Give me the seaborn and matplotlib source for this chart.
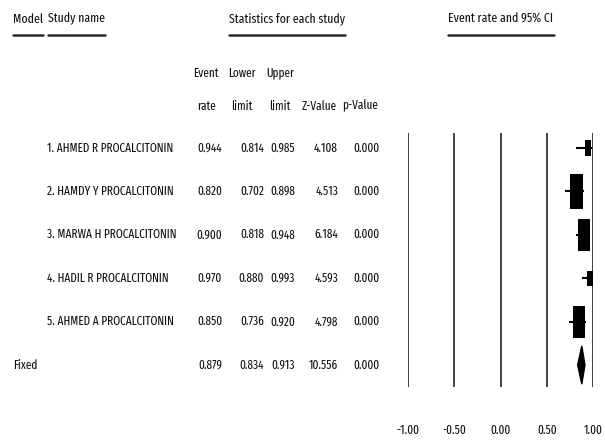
import numpy as np
import matplotlib
matplotlib.use("Agg")
import matplotlib.pyplot as plt
import seaborn as sns
from matplotlib.path import Path
from matplotlib.lines import Line2D
from matplotlib.patches import Polygon

# данные со скриншота (event rate + 95% CI)
study_names = [
    "1. AHMED R PROCALCITONIN",
    "2. HAMDY Y PROCALCITONIN",
    "3. MARWA H PROCALCITONIN",
    "4. HADIL R PROCALCITONIN",
    "5. AHMED A PROCALCITONIN",
]
event_rate = [0.944, 0.820, 0.900, 0.970, 0.850]
lower_limit = [0.814, 0.702, 0.818, 0.880, 0.736]
upper_limit = [0.985, 0.898, 0.948, 0.993, 0.920]
z_value = [4.108, 4.513, 6.184, 4.593, 4.798]
p_value = [0.000, 0.000, 0.000, 0.000, 0.000]

fixed_label = "Fixed"
fixed_stats = [0.879, 0.834, 0.913, 10.556, 0.000]

stat_headers_top = ["Event", "Lower", "Upper", "", ""]
stat_headers_bottom = ["rate", "limit", "limit", "Z-Value", "p-Value"]
x_ticks = [-1.00, -0.50, 0.00, 0.50, 1.00]

W, H = 605, 440


def fx(x):
    return x / W


def fy(y):
    return 1 - y / H


def logit(p):
    p = np.asarray(p)
    return np.log(p / (1 - p))


sns.set_style("white")
plt.rcParams['font.family'] = ['Fira Sans Extra Condensed', 'DejaVu Sans']

fig = plt.figure(figsize=(W / 100, H / 100), dpi=100)
fig.patch.set_facecolor("white")

txt_color = "#111111"
body_fs = 8.8
head_fs = 9.2
row_px0, row_step = 148, 43.4

# --- шапка ---
headers = []
headers.append(fig.text(fx(13), fy(19), "Model", ha="left", va="center", fontsize=head_fs, color=txt_color))
headers.append(fig.text(fx(48), fy(19), "Study name", ha="left", va="center", fontsize=head_fs, color=txt_color))
headers.append(fig.text(fx(287), fy(19), "Statistics for each study", ha="center", va="center",
                        fontsize=head_fs, color=txt_color))
headers.append(fig.text(fx(501), fy(19), "Event rate and 95% CI", ha="center", va="center",
                        fontsize=head_fs, color=txt_color))

col_centers = [206, 242, 280, 319, 360]
col_right = [222, 264, 295, 338, 380]
for cx, top, bottom in zip(col_centers, stat_headers_top, stat_headers_bottom):
    if top:
        fig.text(fx(cx), fy(73), top, ha="center", va="center", fontsize=body_fs, color=txt_color)
    fig.text(fx(cx), fy(106), bottom, ha="center", va="center", fontsize=body_fs, color=txt_color)

# --- таблица ---
for i, name in enumerate(study_names):
    y = fy(row_px0 + i * row_step)
    fig.text(fx(47), y, name, ha="left", va="center", fontsize=body_fs, color=txt_color)
    vals = [event_rate[i], lower_limit[i], upper_limit[i], z_value[i], p_value[i]]
    for xr, v in zip(col_right, vals):
        fig.text(fx(xr), y, f"{v:.3f}", ha="right", va="center", fontsize=body_fs, color=txt_color)

y_fixed = fy(row_px0 + len(study_names) * row_step)
fig.text(fx(13), y_fixed, fixed_label, ha="left", va="center", fontsize=body_fs, color=txt_color)
for xr, v in zip(col_right, fixed_stats):
    fig.text(fx(xr), y_fixed, f"{v:.3f}", ha="right", va="center", fontsize=body_fs, color=txt_color)

# подчеркивания заголовков
fig.canvas.draw()
inv = fig.transFigure.inverted()
for t in headers:
    bb = t.get_window_extent().transformed(inv)
    fig.add_artist(Line2D([bb.x0, bb.x1], [fy(35), fy(35)], color="#2b2b2b", lw=1.8,
                          transform=fig.transFigure))

# --- forest plot ---
top_px, bot_px = 133, 387
ax = fig.add_axes([fx(408), fy(bot_px), (593 - 408) / W, (bot_px - top_px) / H])
ax.set_xlim(-1, 1)
ax.set_ylim((bot_px - row_px0) / row_step, (top_px - row_px0) / row_step)
for xt in x_ticks:
    ax.axvline(xt, color="#333333", lw=1.3, zorder=1)

rows = np.arange(len(study_names))
se = (logit(upper_limit) - logit(lower_limit)) / (2 * 1.96)
weight = 1 / se ** 2

ax.hlines(rows, lower_limit, upper_limit, color="black", lw=1.5, zorder=2, clip_on=False)

box = Path([(-0.38, -1), (0.38, -1), (0.38, 1), (-0.38, 1), (-0.38, -1)],
           [Path.MOVETO, Path.LINETO, Path.LINETO, Path.LINETO, Path.CLOSEPOLY])
sns.scatterplot(x=event_rate, y=rows, size=weight,
                sizes=(70 * weight.min(), 70 * weight.max()),
                marker=box, color="black", edgecolor="black", linewidth=0,
                legend=False, ax=ax, zorder=3, clip_on=False)

# ромб суммарной оценки
fr, fl, fu = fixed_stats[0], fixed_stats[1], fixed_stats[2]
yf = len(study_names)
dh = 0.44
ax.add_patch(Polygon([(fl, yf), (fr, yf - dh), (fu, yf), (fr, yf + dh)],
                     closed=True, color="black", zorder=3, clip_on=False))

ax.set_yticks([])
ax.set_xticks(x_ticks)
ax.set_xticklabels([f"{v:.2f}" for v in x_ticks], fontsize=body_fs, color=txt_color)
ax.tick_params(axis="x", length=0, pad=27)
ax.set_xlabel("")
ax.set_ylabel("")
sns.despine(ax=ax, left=True, bottom=True)

fig.savefig("out.png", dpi=100, facecolor="white")
